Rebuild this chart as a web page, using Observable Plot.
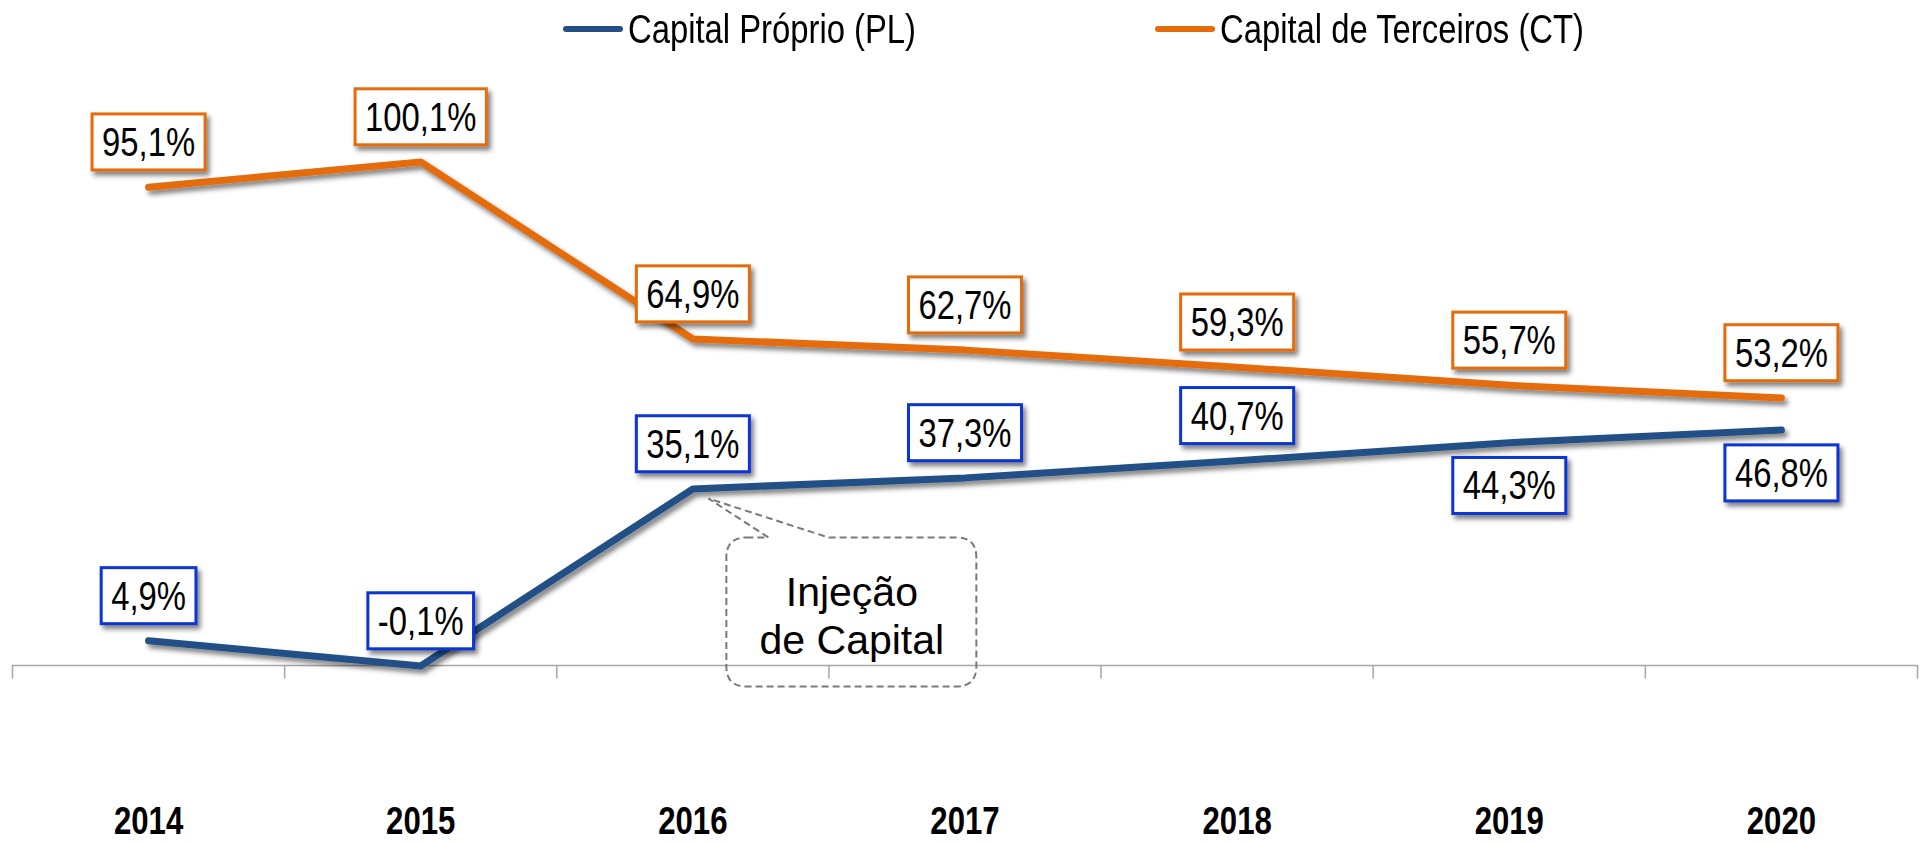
<!DOCTYPE html>
<html><head><meta charset="utf-8">
<script src="https://cdn.jsdelivr.net/npm/d3@7"></script>
<script src="https://cdn.jsdelivr.net/npm/@observablehq/plot@0.6"></script>
<style>
body{margin:0;background:#fff;}
#legend{position:relative;height:60px;width:1927px;font-family:"Liberation Sans",Arial,sans-serif;font-size:40px;color:#000;}
.item{position:absolute;top:0;height:58px;display:flex;align-items:center;white-space:nowrap;}
.sw{width:60px;height:6px;border-radius:3px;margin-right:5px;flex:none;}
.item span{display:inline-block;transform:scaleX(0.82);transform-origin:left center;}
</style></head><body>
<div id="legend"></div>
<div id="chart"></div>
<script>
// ---- data ----
const years = [2014, 2015, 2016, 2017, 2018, 2019, 2020];
const capitalProprio = [4.9, -0.1, 35.1, 37.3, 40.7, 44.3, 46.8];
const capitalTerceiros = [95.1, 100.1, 64.9, 62.7, 59.3, 55.7, 53.2];
const seriesNames = ["Capital Próprio (PL)", "Capital de Terceiros (CT)"];
const seriesColors = ["#234F86", "#E46C0A"];
const boxColors = ["#0B35D1", "#E46C0A"];
const annotationText = "Injeção\nde Capital";
const annotationYear = 2016;

// ---- layout ----
const W = 1927, H = 782;
const NARROW = 0.82; // Liberation Sans squeezed to Arial Narrow proportions
const sans = '"Liberation Sans",Arial,sans-serif';
const fmt = v => v.toFixed(1).replace(".", ",") + "%";
const plBelowYears = new Set([2019, 2020]);

const plRows = years.map((yr, i) => ({year: yr, value: capitalProprio[i]}));
const ctRows = years.map((yr, i) => ({year: yr, value: capitalTerceiros[i]}));
const boundaries = [years[0] - 0.5, ...years.map(y => y + 0.5)];
const annIdx = years.indexOf(annotationYear);
const annRow = {year: annotationYear, value: capitalProprio[annIdx]};

// legend
const legend = document.getElementById("legend");
const legendLeft = [563, 1155];
seriesNames.forEach((n, i) => {
  const d = document.createElement("div");
  d.className = "item";
  d.style.left = legendLeft[i] + "px";
  d.innerHTML = `<div class="sw" style="background:${seriesColors[i]}"></div><span>${n}</span>`;
  legend.appendChild(d);
});

const plot = Plot.plot({
  width: W, height: H,
  marginLeft: 12, marginRight: 10, marginTop: 102, marginBottom: 177,
  x: {domain: [years[0] - 0.5, years[years.length - 1] + 0.5], axis: null},
  y: {domain: [0, 100], axis: null},
  style: {background: "transparent", overflow: "visible"},
  marks: [
    Plot.ruleY([0], {stroke: "#A6A6A6", strokeWidth: 1.5}),
    Plot.ruleX(boundaries, {y1: 0, y2: -2.7, stroke: "#A6A6A6", strokeWidth: 1.5}),
    Plot.line(ctRows, {x: "year", y: "value", stroke: seriesColors[1], strokeWidth: 7, strokeLinecap: "round", strokeLinejoin: "round"}),
    Plot.line(plRows, {x: "year", y: "value", stroke: seriesColors[0], strokeWidth: 7, strokeLinecap: "round", strokeLinejoin: "round"}),
    Plot.text(ctRows, {x: "year", y: "value", text: d => fmt(d.value), dy: -44, fontSize: 40, fontFamily: sans, fill: "#000"}),
    Plot.text(plRows.filter(d => !plBelowYears.has(d.year)), {x: "year", y: "value", text: d => fmt(d.value), dy: -44, fontSize: 40, fontFamily: sans, fill: "#000"}),
    Plot.text(plRows.filter(d => plBelowYears.has(d.year)), {x: "year", y: "value", text: d => fmt(d.value), dy: 44, fontSize: 40, fontFamily: sans, fill: "#000"}),
    Plot.text(years, {x: d => d, frameAnchor: "bottom", dy: 168, text: d => String(d), fontSize: 38, fontWeight: "bold", fontFamily: sans, fill: "#000"}),
    Plot.text([annRow], {x: "year", y: "value", text: () => annotationText, dx: 159, dy: 126, fontSize: 41, lineHeight: 1.17, fontFamily: sans, fill: "#000"})
  ]
});
document.getElementById("chart").append(plot);

// ---- post styling: narrow text, shadows, label boxes, callout ----
const svg = d3.select(plot);
const defs = svg.insert("defs", ":first-child");
const f = defs.append("filter").attr("id", "sh").attr("x", "-30%").attr("y", "-60%").attr("width", "170%").attr("height", "260%");
f.append("feDropShadow").attr("dx", 3).attr("dy", 4).attr("stdDeviation", 2.5).attr("flood-color", "#000").attr("flood-opacity", 0.5);

svg.selectAll('g[aria-label="line"]').attr("filter", "url(#sh)");

const textGroups = svg.selectAll('g[aria-label="text"]').nodes();

// compress glyphs horizontally (keeps the text anchored where Plot put it)
function squeeze(t, b) {
  t.setAttribute("textLength", b.width * NARROW);
  t.setAttribute("lengthAdjust", "spacingAndGlyphs");
}

const groupColors = [boxColors[1], boxColors[0], boxColors[0]];
groupColors.forEach((c, gi) => {
  const g = textGroups[gi];
  g.querySelectorAll("text").forEach(t => {
    const b = t.getBBox();
    squeeze(t, b);
    const b2 = t.getBBox();
    const cy = b.y + b.height / 2;
    const r = document.createElementNS("http://www.w3.org/2000/svg", "rect");
    r.setAttribute("x", b2.x - 10);
    r.setAttribute("y", cy - 28);
    r.setAttribute("width", b2.width + 20);
    r.setAttribute("height", 56);
    r.setAttribute("fill", "#fff");
    r.setAttribute("stroke", c);
    r.setAttribute("stroke-width", 3);
    r.setAttribute("filter", "url(#sh)");
    const tr = t.getAttribute("transform");
    if (tr) r.setAttribute("transform", tr);
    g.insertBefore(r, t);
  });
});
// year labels narrow
textGroups[3].querySelectorAll("text").forEach(t => squeeze(t, t.getBBox()));

// callout around annotation, anchored to the data point
const px = plot.scale("x").apply(annRow.year), py = plot.scale("y").apply(annRow.value);
const L = px + 34, R = px + 284, T = py + 49, B = py + 198, rr = 20;
const tx = px + 16, ty = py + 10, a = px + 76, bb = px + 136;
const p = `M${L + rr},${T} L${a},${T} L${tx},${ty} L${bb},${T} L${R - rr},${T} Q${R},${T} ${R},${T + rr} L${R},${B - rr} Q${R},${B} ${R - rr},${B} L${L + rr},${B} Q${L},${B} ${L},${B - rr} L${L},${T + rr} Q${L},${T} ${L + rr},${T} Z`;
svg.insert("path", () => textGroups[4]).attr("d", p).attr("fill", "none").attr("stroke", "#7A7A7A").attr("stroke-width", 2).attr("stroke-dasharray", "7,4");
</script>
</body></html>
